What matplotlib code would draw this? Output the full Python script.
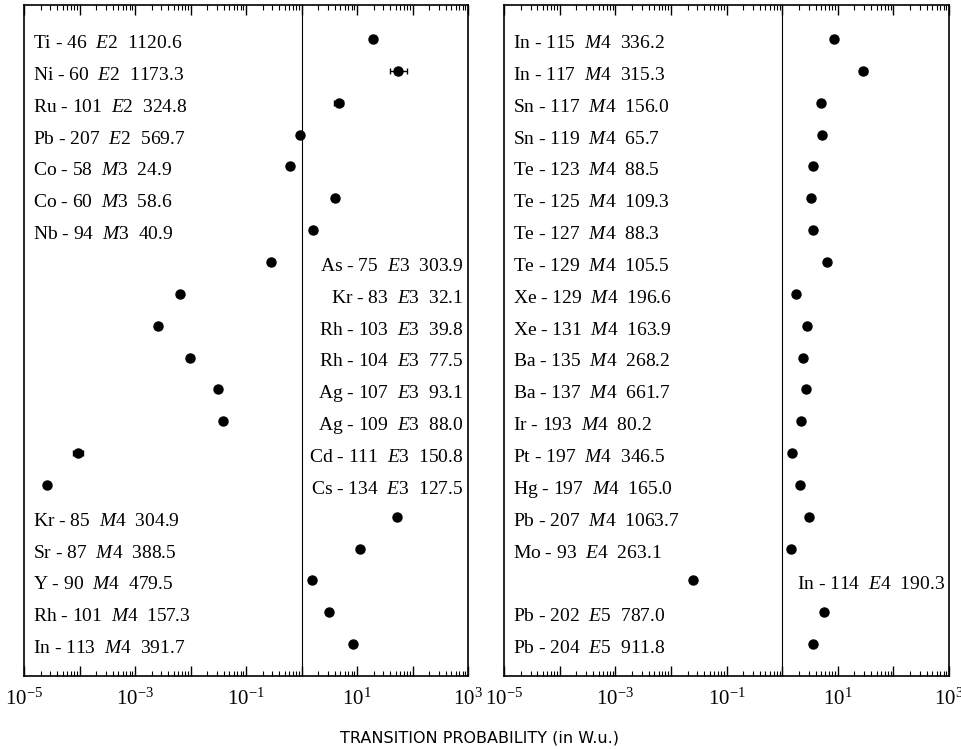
import matplotlib
matplotlib.use("Agg")
import matplotlib.pyplot as plt
import matplotlib as mpl
import numpy as np
from matplotlib.ticker import LogLocator, NullFormatter

mpl.rcParams['mathtext.fontset'] = 'custom'
mpl.rcParams['mathtext.rm'] = 'Liberation Serif'
mpl.rcParams['mathtext.it'] = 'Liberation Serif:italic'

# left panel data
left_nuclides = ["Ti - 46", "Ni - 60", "Ru - 101", "Pb - 207", "Co - 58", "Co - 60", "Nb - 94",
                 "As - 75", "Kr - 83", "Rh - 103", "Rh - 104", "Ag - 107", "Ag - 109", "Cd - 111", "Cs - 134",
                 "Kr - 85", "Sr - 87", "Y - 90", "Rh - 101", "In - 113"]
left_mults = ["E2", "E2", "E2", "E2", "M3", "M3", "M3",
              "E3", "E3", "E3", "E3", "E3", "E3", "E3", "E3",
              "M4", "M4", "M4", "M4", "M4"]
left_energies = ["1120.6", "1173.3", "324.8", "569.7", "24.9", "58.6", "40.9",
                 "303.9", "32.1", "39.8", "77.5", "93.1", "88.0", "150.8", "127.5",
                 "304.9", "388.5", "479.5", "157.3", "391.7"]
left_values = [19.2, 55.6, 4.74, 0.955, 0.61, 4.0, 1.63,
               0.28, 0.0065, 0.0026, 0.0096, 0.031, 0.039, 9.5e-5, 2.6e-5,
               51.9, 11.2, 1.52, 3.13, 8.36]
left_low = [19.2, 39.0, 3.9, 0.955, 0.61, 4.0, 1.63,
            0.28, 0.0065, 0.0026, 0.0096, 0.031, 0.039, 7.7e-5, 2.6e-5,
            51.9, 11.2, 1.52, 3.13, 8.36]
left_high = [19.2, 81.0, 5.66, 0.955, 0.61, 4.0, 1.63,
             0.28, 0.0065, 0.0026, 0.0096, 0.031, 0.039, 1.17e-4, 2.6e-5,
             51.9, 11.2, 1.52, 3.13, 8.36]
left_side = ["L"] * 7 + ["R"] * 8 + ["L"] * 5

# right panel data
right_nuclides = ["In - 115", "In - 117", "Sn - 117", "Sn - 119", "Te - 123", "Te - 125", "Te - 127",
                  "Te - 129", "Xe - 129", "Xe - 131", "Ba - 135", "Ba - 137", "Ir - 193", "Pt - 197",
                  "Hg - 197", "Pb - 207", "Mo - 93", "In - 114", "Pb - 202", "Pb - 204"]
right_mults = ["M4"] * 16 + ["E4", "E4", "E5", "E5"]
right_energies = ["336.2", "315.3", "156.0", "65.7", "88.5", "109.3", "88.3",
                  "105.5", "196.6", "163.9", "268.2", "661.7", "80.2", "346.5",
                  "165.0", "1063.7", "263.1", "190.3", "787.0", "911.8"]
right_values = [8.6, 29.0, 4.97, 5.18, 3.56, 3.37, 3.66,
                6.37, 1.79, 2.85, 2.42, 2.70, 2.17, 1.53,
                2.11, 3.09, 1.45, 0.0254, 5.69, 3.61]
right_low = [8.6, 25.5, 4.97, 5.18, 3.56, 3.37, 3.66,
             5.55, 1.79, 2.85, 2.42, 2.70, 2.17, 1.53,
             2.11, 3.09, 1.45, 0.0254, 5.69, 3.61]
right_high = [8.6, 33.0, 4.97, 5.18, 3.56, 3.37, 3.66,
              7.3, 1.79, 2.85, 2.42, 2.70, 2.17, 1.53,
              2.11, 3.09, 1.45, 0.0254, 5.69, 3.61]
right_side = ["L"] * 17 + ["R"] + ["L"] * 2

W, H = 961, 749
fig = plt.figure(figsize=(W / 100, H / 100), dpi=100)
ax_l = fig.add_axes([24 / W, 1 - 676 / H, 444 / W, 671 / H])
ax_r = fig.add_axes([504 / W, 1 - 676 / H, 445 / W, 671 / H])


def draw_panel(ax, nuclides, mults, energies, values, low, high, side):
    y = np.arange(len(values))
    vals = np.array(values)
    err = [vals - np.array(low), np.array(high) - vals]
    ax.errorbar(vals, y, xerr=err, fmt='o', color='black', ms=6.5,
                elinewidth=1.0, capsize=2.5, capthick=1.0)
    ax.axvline(1.0, color='black', lw=0.8)
    for i in range(len(values)):
        label = f"{nuclides[i]}  ${mults[i][0]}$" + f"{mults[i][1]}  {energies[i]}"
        if side[i] == "L":
            ax.text(0.021, y[i] + 0.14, label, transform=ax.get_yaxis_transform(),
                    ha='left', va='center', fontsize=14, family='Liberation Serif')
        else:
            ax.text(0.99, y[i] + 0.14, label, transform=ax.get_yaxis_transform(),
                    ha='right', va='center', fontsize=14, family='Liberation Serif')
    ax.set_xscale('log')
    ax.set_xlim(1e-5, 1e3)
    ax.set_ylim(len(values) - 1 + 1.0, -1.07)
    ax.set_yticks([])
    ax.xaxis.set_minor_locator(LogLocator(base=10, subs=np.arange(2, 10), numticks=20))
    ax.xaxis.set_minor_formatter(NullFormatter())
    ax.set_xticks([1e-5, 1e-4, 1e-3, 1e-2, 1e-1, 1, 10, 100, 1e3])
    ax.set_xticklabels(["$10^{-5}$", "", "$10^{-3}$", "", "$10^{-1}$", "", "$10^{1}$", "", "$10^{3}$"])
    ax.tick_params(axis='x', which='major', direction='in', top=True, length=7, width=1.0,
                   labelsize=15, pad=8)
    ax.tick_params(axis='x', which='minor', direction='in', top=True, length=3.5, width=0.8)
    for s in ax.spines.values():
        s.set_linewidth(1.2)


draw_panel(ax_l, left_nuclides, left_mults, left_energies, left_values, left_low, left_high, left_side)
draw_panel(ax_r, right_nuclides, right_mults, right_energies, right_values, right_low, right_high, right_side)

fig.text(480 / W, 1 - 738 / H, "TRANSITION PROBABILITY (in W.u.)", ha='center', va='center',
         fontsize=11.5, family='DejaVu Sans')

fig.savefig("out.png", dpi=100)
